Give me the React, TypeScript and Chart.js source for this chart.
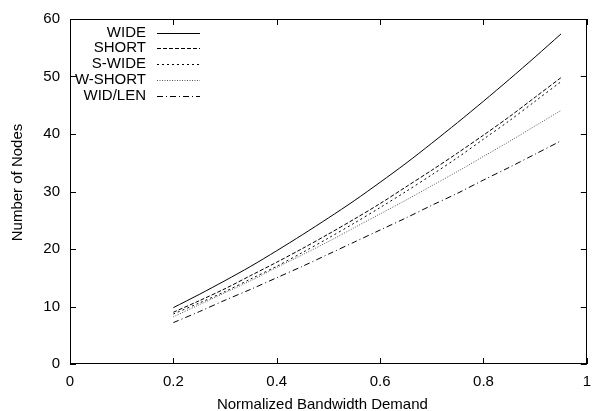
import React, { useEffect, useRef } from "react";
import { Chart, registerables } from "chart.js";

Chart.register(...registerables);

// ---- data ----
const demand = [0.2, 0.25, 0.3, 0.35, 0.4, 0.45, 0.5, 0.55, 0.6, 0.65, 0.7, 0.75, 0.8, 0.85, 0.9, 0.95];
const wide = [9.8, 12.1, 14.5, 17.0, 19.7, 22.5, 25.4, 28.4, 31.6, 34.9, 38.4, 42.0, 45.7, 49.5, 53.4, 57.4];
const short = [9.0, 11.0, 13.1, 15.4, 17.7, 20.1, 22.6, 25.2, 27.9, 30.8, 33.7, 36.7, 39.8, 43.0, 46.4, 49.8];
const sWide = [8.7, 10.6, 12.6, 14.8, 17.0, 19.4, 21.9, 24.5, 27.2, 30.0, 32.9, 35.9, 39.1, 42.3, 45.7, 49.1];
const wShort = [8.2, 10.3, 12.4, 14.5, 16.8, 19.0, 21.3, 23.7, 26.1, 28.5, 31.0, 33.5, 36.1, 38.7, 41.4, 44.1];
const widLen = [7.2, 9.1, 11.1, 13.0, 15.0, 17.0, 19.1, 21.2, 23.3, 25.4, 27.6, 29.7, 32.0, 34.2, 36.5, 38.8];

const seriesLabels = ["WIDE", "SHORT", "S-WIDE", "W-SHORT", "WID/LEN"];
const xTicks = [0, 0.2, 0.4, 0.6, 0.8, 1];
const xTickLabels = ["0", "0.2", "0.4", "0.6", "0.8", "1"];
const yTicks = [0, 10, 20, 30, 40, 50, 60];
const yTickLabels = ["0", "10", "20", "30", "40", "50", "60"];
const xTitle = "Normalized Bandwidth Demand";
const yTitle = "Number of Nodes";

const FONT = '"Liberation Sans", Arial, Helvetica, sans-serif';

const styles = [
  { color: "#000000", dash: [] as number[] },
  { color: "#000000", dash: [4, 2] },
  { color: "#000000", dash: [2, 3] },
  { color: "#555555", dash: [1, 1.5] },
  { color: "#000000", dash: [6, 3, 1, 3] },
];

const framePlugin = {
  id: "frame",
  afterDraw(chart: any) {
    const { ctx, chartArea, scales } = chart;
    const { left, right, top, bottom } = chartArea;
    const xs = scales.x;
    const ys = scales.y;
    ctx.save();
    ctx.strokeStyle = "#000";
    ctx.lineWidth = 1;
    ctx.setLineDash([]);
    ctx.strokeRect(Math.round(left) + 0.5, Math.round(top) + 0.5, Math.round(right - left) - 1, Math.round(bottom - top) - 1);
    const tl = 6;
    ctx.beginPath();
    xTicks.forEach((v) => {
      const px = Math.round(xs.getPixelForValue(v)) + 0.5;
      ctx.moveTo(px, bottom);
      ctx.lineTo(px, bottom - tl);
      ctx.moveTo(px, top);
      ctx.lineTo(px, top + tl);
    });
    yTicks.forEach((v) => {
      const py = Math.round(ys.getPixelForValue(v)) + 0.5;
      ctx.moveTo(left, py);
      ctx.lineTo(left + tl, py);
      ctx.moveTo(right, py);
      ctx.lineTo(right - tl, py);
    });
    ctx.stroke();

    // legend
    ctx.font = `15px ${FONT}`;
    ctx.fillStyle = "#000";
    ctx.textAlign = "right";
    ctx.textBaseline = "middle";
    chart.data.datasets.forEach((ds: any, i: number) => {
      const yy = top + 13.5 + i * 15.75;
      ctx.fillText(ds.label, left + 76, yy);
      ctx.beginPath();
      ctx.strokeStyle = ds.borderColor;
      ctx.setLineDash(ds.borderDash || []);
      ctx.moveTo(left + 87, Math.round(yy) + 0.5);
      ctx.lineTo(left + 130, Math.round(yy) + 0.5);
      ctx.stroke();
    });
    ctx.setLineDash([]);

    // axis titles
    ctx.textAlign = "center";
    ctx.textBaseline = "middle";
    ctx.fillText(xTitle, (left + right) / 2 - 6, bottom + 40.5);
    ctx.save();
    ctx.translate(17.5, (top + bottom) / 2 - 9);
    ctx.rotate(-Math.PI / 2);
    ctx.fillText(yTitle, 0, 0);
    ctx.restore();
    ctx.restore();
  },
};

export default function App() {
  const ref = useRef<HTMLCanvasElement | null>(null);
  useEffect(() => {
    document.body.style.margin = "0";
    const canvas = ref.current;
    if (!canvas) return;
    const all = [wide, short, sWide, wShort, widLen];
    const chart = new Chart(canvas, {
      type: "line",
      data: {
        datasets: all.map((arr, i) => ({
          label: seriesLabels[i],
          data: arr.map((v, j) => ({ x: demand[j], y: v })),
          borderColor: styles[i].color,
          borderDash: styles[i].dash,
          borderWidth: 1,
          pointRadius: 0,
          fill: false,
          tension: 0.3,
        })),
      },
      options: {
        responsive: false,
        animation: false,
        layout: { padding: { top: 17, right: 4, left: 0, bottom: 0 } },
        plugins: { legend: { display: false }, tooltip: { enabled: false } },
        scales: {
          x: {
            type: "linear",
            min: 0,
            max: 1,
            grid: { display: false, drawTicks: false },
            border: { display: false },
            afterBuildTicks: (s: any) => {
              s.ticks = xTicks.map((v) => ({ value: v }));
            },
            afterFit: (s: any) => {
              s.height = 47;
            },
            ticks: {
              padding: 9,
              color: "#000",
              font: { family: FONT, size: 15 },
              maxRotation: 0,
              callback: (_v: any, i: number) => xTickLabels[i],
            },
          },
          y: {
            type: "linear",
            min: 0,
            max: 60,
            grid: { display: false, drawTicks: false },
            border: { display: false },
            afterBuildTicks: (s: any) => {
              s.ticks = yTicks.map((v) => ({ value: v }));
            },
            afterFit: (s: any) => {
              s.width = 70;
            },
            ticks: {
              padding: 10,
              color: "#000",
              font: { family: FONT, size: 15 },
              callback: (_v: any, i: number) => yTickLabels[i],
            },
          },
        },
      },
      plugins: [framePlugin],
    });
    return () => chart.destroy();
  }, []);
  return (
    <div style={{ width: 600, height: 411 }}>
      <canvas ref={ref} width={600} height={411} style={{ display: "block", width: 600, height: 411 }} />
    </div>
  );
}
